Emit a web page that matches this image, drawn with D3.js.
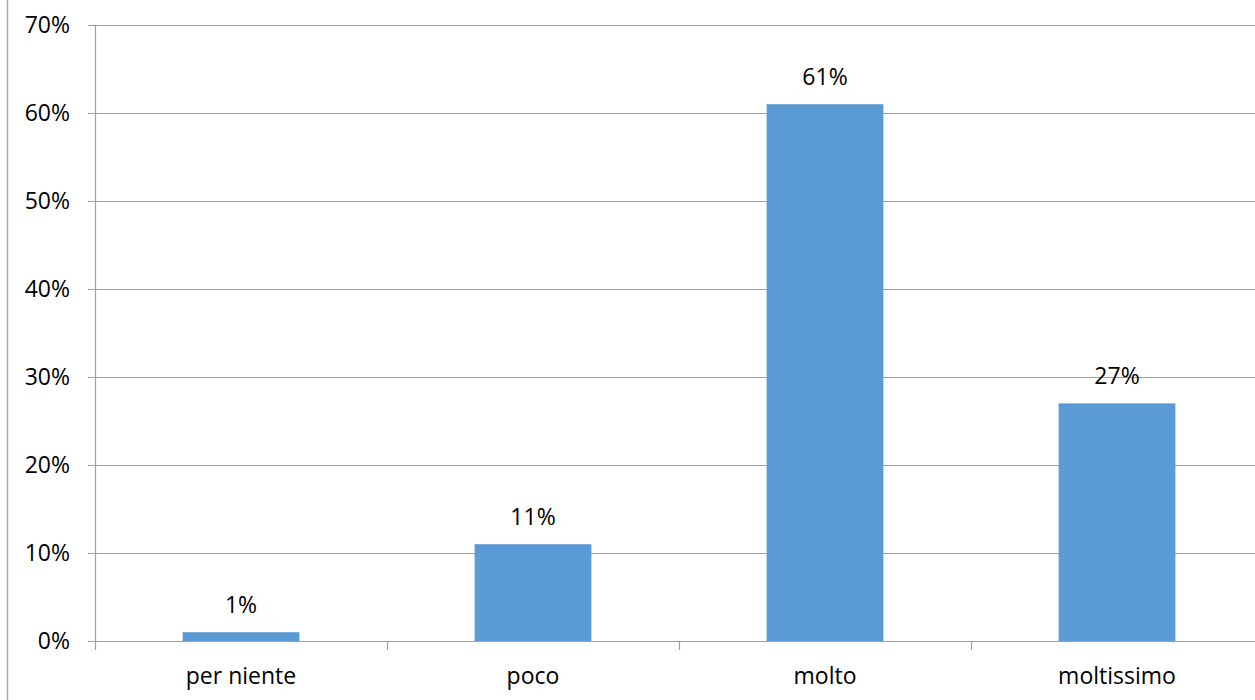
<!DOCTYPE html>
<html><head><meta charset="utf-8">
<script src="https://cdn.jsdelivr.net/npm/d3@7"></script>
<style>body{margin:0;background:#fff}svg{display:block}text{font-family:"Open Sans",sans-serif;fill:#000}</style>
</head><body><svg id="c" width="1255" height="700"></svg>
<script>
const categories = ["per niente", "poco", "molto", "moltissimo"];
const values = [0.01, 0.11, 0.61, 0.27];
const yTicks = [0, 0.1, 0.2, 0.3, 0.4, 0.5, 0.6, 0.7];

const svg = d3.select("#c");
const mLeft = 95, mRight = 1263, mTop = 25, mBottom = 641;
const x = d3.scaleBand().domain(categories).range([mLeft, mRight]).paddingInner(0.6).paddingOuter(0.3);
const xb = d3.scaleBand().domain(categories).range([mLeft, mRight]);
const y = d3.scaleLinear().domain([0, 0.7]).range([mBottom, mTop]);
const fmt = d3.format(".0%");
const grid = "#a0a0a0";
const fs = "23px";

svg.append("line").attr("x1",7.5).attr("x2",7.5).attr("y1",0).attr("y2",700).attr("stroke","#a6a6a6").attr("stroke-width",1.5);

svg.append("g").selectAll("line").data(yTicks).join("line")
  .attr("x1", mLeft - 7).attr("x2", mRight).attr("y1", d => Math.round(y(d)) + 0.5).attr("y2", d => Math.round(y(d)) + 0.5)
  .attr("stroke", grid).attr("stroke-width", 1.2);

svg.append("line").attr("x1", mLeft + 0.5).attr("x2", mLeft + 0.5).attr("y1", mTop).attr("y2", mBottom + 9).attr("stroke", grid).attr("stroke-width", 1.2);
svg.append("g").selectAll("line").data(categories).join("line")
  .attr("x1", d => Math.round(xb(d) + xb.step()) + 0.5).attr("x2", d => Math.round(xb(d) + xb.step()) + 0.5)
  .attr("y1", mBottom).attr("y2", mBottom + 9).attr("stroke", grid).attr("stroke-width", 1.2);

svg.append("g").selectAll("text").data(yTicks).join("text")
  .attr("x", 70).attr("y", d => y(d)).attr("dy", "0.35em").attr("text-anchor", "end")
  .style("font-size", fs).text(fmt);

svg.append("g").selectAll("rect").data(values).join("rect")
  .attr("x", (d,i) => x(categories[i])).attr("width", x.bandwidth())
  .attr("y", d => y(d)).attr("height", d => y(0) - y(d)).attr("fill", "#5B9BD5");

svg.append("g").selectAll("text").data(values).join("text")
  .attr("x", (d,i) => x(categories[i]) + x.bandwidth()/2).attr("y", d => y(d) - 19)
  .attr("text-anchor", "middle").style("font-size", fs).text(fmt);

svg.append("g").selectAll("text").data(categories).join("text")
  .attr("x", d => xb(d) + xb.bandwidth()/2).attr("y", 684)
  .attr("text-anchor", "middle").style("font-size", fs).text(d => d);
</script></body></html>
